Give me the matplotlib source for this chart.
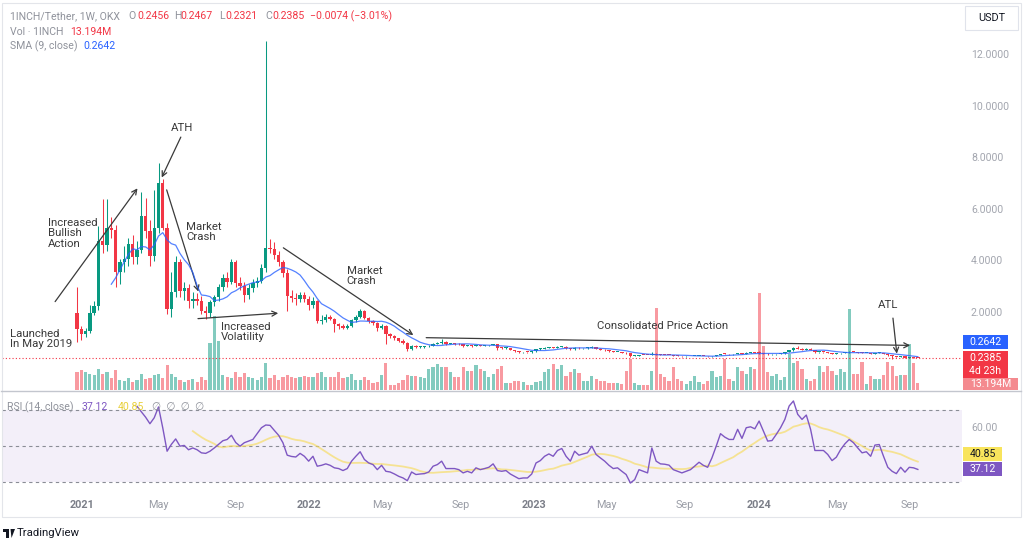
import numpy as np
import pandas as pd
import matplotlib
matplotlib.use("Agg")
import matplotlib.pyplot as plt
from matplotlib.patches import Rectangle, Circle, Polygon
from matplotlib.lines import Line2D
import matplotlib.transforms as mtransforms

plt.rcParams['font.family'] = ['Roboto', 'DejaVu Sans']

# ---------------- data (weekly bars, 1INCH/USDT, OKX) ----------------
opens = [2.00, 1.36, 1.16, 1.30, 2.00, 2.25, 4.77, 4.62, 5.30, 5.20,
         3.58, 3.95, 4.10, 4.65, 4.15, 4.45, 5.74, 5.16, 4.19, 5.30,
         7.05, 5.30, 2.13, 2.80, 3.95, 2.85, 2.95, 2.45, 2.55, 2.45,
         2.05, 1.97, 2.40, 2.60, 3.00, 3.35, 3.20, 3.95, 3.15, 3.05,
         2.70, 2.95, 3.15, 3.25, 3.75, 4.50, 4.48, 4.25, 3.95, 3.55,
         2.65, 2.58, 2.52, 2.68, 2.55, 2.30, 2.45, 1.68, 1.72, 1.82,
         1.75, 1.55, 1.50, 1.42, 1.48, 1.70, 1.82, 2.05, 1.80, 1.66,
         1.60, 1.40, 1.50, 1.16, 1.10, 1.00, 0.92, 0.84, 0.58, 0.72,
         0.66, 0.68, 0.69, 0.72, 0.80, 0.83, 0.88, 0.80, 0.802, 0.79,
         0.77, 0.71, 0.73, 0.70, 0.74, 0.72, 0.73, 0.74, 0.77, 0.64,
         0.62, 0.63, 0.56, 0.51, 0.46, 0.47, 0.465, 0.50, 0.58, 0.60,
         0.63, 0.65, 0.63, 0.67, 0.68, 0.62, 0.58, 0.64, 0.61, 0.62,
         0.63, 0.67, 0.60, 0.57, 0.54, 0.50, 0.47, 0.475, 0.45, 0.42,
         0.31, 0.33, 0.36, 0.355, 0.35, 0.40, 0.37, 0.36, 0.355, 0.35,
         0.33, 0.32, 0.30, 0.305, 0.31, 0.315, 0.32, 0.31, 0.30, 0.32,
         0.35, 0.40, 0.39, 0.385, 0.387, 0.42, 0.40, 0.44, 0.445, 0.44,
         0.43, 0.41, 0.38, 0.382, 0.40, 0.42, 0.46, 0.54, 0.63, 0.60,
         0.57, 0.60, 0.55, 0.47, 0.472, 0.465, 0.44, 0.41, 0.42, 0.44,
         0.46, 0.48, 0.47, 0.45, 0.43, 0.435, 0.41, 0.44, 0.445, 0.40,
         0.34, 0.30, 0.28, 0.30, 0.26, 0.27, 0.2456]

highs = [2.98, 1.50, 1.40, 2.30, 2.45, 5.35, 6.40, 6.40, 5.70, 5.40,
         4.10, 4.60, 4.90, 5.00, 4.80, 6.70, 6.45, 5.60, 6.77, 7.81,
         7.20, 5.50, 3.60, 4.20, 4.10, 3.20, 3.10, 2.80, 2.75, 2.65,
         2.25, 2.50, 2.70, 3.10, 3.50, 3.60, 4.10, 4.05, 3.40, 3.20,
         3.10, 3.30, 3.40, 3.90, 12.55, 4.85, 4.75, 4.40, 4.05, 3.70,
         2.90, 2.75, 2.80, 2.80, 2.65, 2.60, 2.50, 1.90, 1.95, 1.90,
         1.80, 1.60, 1.55, 1.55, 1.75, 1.90, 2.15, 2.10, 1.85, 1.72,
         1.62, 1.55, 1.52, 1.22, 1.14, 1.02, 0.96, 0.86, 0.76, 0.75,
         0.71, 0.72, 0.76, 0.84, 0.88, 0.96, 0.90, 0.84, 0.82, 0.81,
         0.78, 0.76, 0.74, 0.76, 0.76, 0.75, 0.76, 0.80, 0.78, 0.66,
         0.66, 0.64, 0.57, 0.52, 0.49, 0.48, 0.51, 0.59, 0.62, 0.65,
         0.68, 0.67, 0.69, 0.71, 0.69, 0.63, 0.66, 0.65, 0.64, 0.65,
         0.69, 0.68, 0.61, 0.58, 0.55, 0.51, 0.49, 0.48, 0.46, 0.43,
         0.34, 0.37, 0.37, 0.36, 0.48, 0.42, 0.38, 0.37, 0.36, 0.355,
         0.34, 0.325, 0.315, 0.32, 0.325, 0.33, 0.325, 0.315, 0.33, 0.36,
         0.41, 0.42, 0.40, 0.40, 0.44, 0.43, 0.46, 0.47, 0.46, 0.50,
         0.44, 0.42, 0.395, 0.41, 0.43, 0.475, 0.56, 0.66, 0.72, 0.62,
         0.63, 0.61, 0.56, 0.49, 0.48, 0.47, 0.45, 0.43, 0.45, 0.47,
         0.53, 0.49, 0.48, 0.46, 0.445, 0.44, 0.45, 0.46, 0.45, 0.41,
         0.35, 0.31, 0.31, 0.30, 0.28, 0.275, 0.2467]

lows = [0.88, 0.95, 1.05, 1.20, 1.90, 2.10, 4.30, 4.40, 4.90, 3.00,
        3.10, 3.60, 3.80, 3.90, 3.90, 4.30, 4.90, 3.80, 4.00, 5.10,
        5.20, 1.95, 1.85, 2.60, 2.60, 2.50, 2.20, 2.20, 2.30, 1.95,
        1.75, 1.85, 2.25, 2.45, 2.85, 3.00, 3.10, 3.00, 2.90, 2.40,
        2.55, 2.80, 3.00, 3.15, 3.60, 4.30, 4.10, 3.80, 3.40, 2.05,
        2.40, 2.30, 2.40, 2.40, 2.10, 2.20, 1.60, 1.55, 1.65, 1.70,
        1.25, 1.35, 1.35, 1.38, 1.45, 1.65, 1.78, 1.75, 1.60, 1.52,
        1.30, 1.35, 0.77, 1.00, 0.95, 0.85, 0.78, 0.50, 0.55, 0.62,
        0.63, 0.64, 0.66, 0.70, 0.77, 0.80, 0.76, 0.77, 0.75, 0.74,
        0.68, 0.69, 0.68, 0.69, 0.70, 0.70, 0.71, 0.73, 0.57, 0.58,
        0.60, 0.55, 0.49, 0.44, 0.45, 0.44, 0.45, 0.49, 0.56, 0.58,
        0.62, 0.61, 0.62, 0.65, 0.60, 0.56, 0.57, 0.60, 0.59, 0.60,
        0.62, 0.59, 0.56, 0.53, 0.49, 0.46, 0.46, 0.44, 0.41, 0.28,
        0.30, 0.32, 0.35, 0.34, 0.34, 0.36, 0.35, 0.35, 0.34, 0.325,
        0.315, 0.29, 0.295, 0.30, 0.305, 0.31, 0.305, 0.29, 0.295, 0.315,
        0.345, 0.38, 0.375, 0.375, 0.38, 0.39, 0.39, 0.43, 0.42, 0.40,
        0.40, 0.37, 0.37, 0.375, 0.395, 0.415, 0.455, 0.53, 0.58, 0.55,
        0.56, 0.54, 0.44, 0.45, 0.45, 0.43, 0.40, 0.40, 0.41, 0.43,
        0.45, 0.46, 0.44, 0.42, 0.42, 0.40, 0.40, 0.43, 0.39, 0.33,
        0.22, 0.27, 0.27, 0.25, 0.25, 0.24, 0.2321]

closes = [1.36, 1.16, 1.30, 2.00, 2.25, 4.77, 4.62, 5.30, 5.20, 3.58,
          3.95, 4.10, 4.65, 4.15, 4.45, 5.74, 5.16, 4.19, 5.30, 7.05,
          5.30, 2.13, 2.80, 3.95, 2.85, 2.95, 2.45, 2.55, 2.45, 2.05,
          1.97, 2.40, 2.60, 3.00, 3.35, 3.20, 3.95, 3.15, 3.05, 2.70,
          2.95, 3.15, 3.25, 3.75, 4.50, 4.48, 4.25, 3.95, 3.55, 2.65,
          2.58, 2.52, 2.68, 2.55, 2.30, 2.45, 1.68, 1.72, 1.82, 1.75,
          1.55, 1.50, 1.42, 1.48, 1.70, 1.82, 2.05, 1.80, 1.66, 1.60,
          1.40, 1.50, 1.16, 1.10, 1.00, 0.92, 0.84, 0.58, 0.72, 0.66,
          0.68, 0.69, 0.72, 0.80, 0.83, 0.88, 0.80, 0.802, 0.79, 0.77,
          0.71, 0.73, 0.70, 0.74, 0.72, 0.73, 0.74, 0.77, 0.64, 0.62,
          0.63, 0.56, 0.51, 0.46, 0.47, 0.465, 0.50, 0.58, 0.60, 0.63,
          0.65, 0.63, 0.67, 0.68, 0.62, 0.58, 0.64, 0.61, 0.62, 0.63,
          0.67, 0.60, 0.57, 0.54, 0.50, 0.47, 0.475, 0.45, 0.42, 0.31,
          0.33, 0.36, 0.355, 0.35, 0.40, 0.37, 0.36, 0.355, 0.35, 0.33,
          0.32, 0.30, 0.305, 0.31, 0.315, 0.32, 0.31, 0.30, 0.32, 0.35,
          0.40, 0.39, 0.385, 0.387, 0.42, 0.40, 0.44, 0.445, 0.44, 0.43,
          0.41, 0.38, 0.382, 0.40, 0.42, 0.46, 0.54, 0.63, 0.60, 0.57,
          0.60, 0.55, 0.47, 0.472, 0.465, 0.44, 0.41, 0.42, 0.44, 0.46,
          0.48, 0.47, 0.45, 0.43, 0.435, 0.41, 0.44, 0.445, 0.40, 0.34,
          0.30, 0.28, 0.30, 0.26, 0.27, 0.2456, 0.2385]

volumes_m = [32, 36, 32, 29, 27, 38, 29, 32, 22, 36,
             18, 16, 22, 14, 18, 29, 20, 22, 27, 29,
             22, 45, 29, 23, 18, 14, 18, 20, 14, 23,
             18, 85, 135, 90, 27, 23, 22, 32, 23, 31,
             23, 22, 18, 23, 49, 22, 27, 18, 23, 27,
             23, 22, 23, 25, 23, 23, 31, 32, 23, 23,
             23, 32, 22, 23, 29, 18, 18, 23, 18, 13,
             14, 27, 50, 9, 9, 13, 18, 27, 25, 25,
             23, 22,
             38, 41, 47, 42, 41, 32, 23, 23, 41, 35, 35, 45, 39, 35, 23, 29, 38, 43,
             13, 13, 17, 17, 14, 9, 9, 14, 17, 32, 38, 47, 38, 45, 26, 32, 39, 31,
             17, 17, 25, 20, 17, 17, 13, 13, 13, 11, 35, 56, 13, 9, 9, 9, 35,
             149,
             29, 23, 17, 41, 20, 17, 11, 17, 25, 14, 11, 17, 35, 23, 26, 56, 20, 17,
             41, 35, 29, 41, 38,
             176,
             80, 32, 25, 29, 19, 23, 65, 50, 53, 38, 20, 17, 20, 43, 32, 43, 35, 27,
             38, 32,
             147,
             29, 29, 51, 11, 25, 20, 20, 27, 51, 43, 25, 27, 27, 83, 50, 13.194]

rsi_first_bar = 14
rsi_values = [72, 69, 66, 62.4, 65.7, 71.7, 60,
              47.2, 51, 54, 50, 50.4, 48, 49, 48, 46.3, 46,
              47.2, 49, 51, 53, 53.7, 56, 52, 50, 51.9, 52.8,
              53.7, 56.9, 60.2, 61.7, 61.5, 58.7, 56, 51.9, 45, 44.3,
              44, 46, 44.4, 41.7, 44.4, 38.9, 39.4, 40.2, 39.4, 38,
              37.6, 36.5, 37.6, 41.7, 44.4, 46.9, 42.6, 40.7, 39.8, 37,
              39.4, 36.1, 35.7, 34.6, 33.3, 32.4, 30.9, 35.7, 34.3, 34.6,
              34.8, 35.7, 38.9, 39.8,
              41.7, 37.6, 37.6, 37.6, 37, 35.2,
              36.1, 35.2, 38, 37, 37.6, 38.3, 40.2, 36.5, 36.1, 36.5,
              34.6, 33.3, 32, 32.4, 32.4, 34.6, 40.7, 42, 44.4, 45.7,
              44.4, 47.6, 48.7, 44.4, 41.7, 47.2, 45, 45.7, 46.3, 50,
              45.4, 43.5, 41.7, 39.4, 37.6, 38, 36.1, 34.3, 29.6, 31.5,
              37, 36.1, 35.2, 49, 41.7, 40.2, 40, 39.5,
              37, 36.1, 35.2, 36.1, 37, 39, 41.1, 39.4, 38.3, 43.5,
              50, 56.9, 55, 53.7, 53.7, 59.3, 54.3, 60.2, 60.7, 59.6,
              63.9, 58.3, 52.8, 53.1, 56.5, 60.2, 64.8, 72.2, 75, 67.6,
              64.8, 67.2, 59.3, 47.6, 47.6, 47.6, 45.4, 42, 43.9, 48.1,
              51.3, 53.7, 51.9, 49, 46.3, 46.9, 44.4, 50.6, 50.9, 44.4,
              38.3, 36.1, 34.8, 38.3, 35.6, 38.3, 38, 37.12]

price_ticks = [2, 4, 6, 8, 10, 12]
rsi_levels = [70, 50, 30]
time_tick_pos = [1.2, 18.9, 37.1, 54.1, 71.1, 89.5, 106.5, 123.5, 141.7, 159.0, 177.2, 194.2]
time_tick_labels = ['2021', 'May', 'Sep', '2022', 'May', 'Sep', '2023', 'May', 'Sep', '2024', 'May', 'Sep']

n = len(closes)
assert len(opens) == n and len(highs) == n and len(lows) == n, (len(opens), len(highs), len(lows), n)
assert len(volumes_m) == n, len(volumes_m)
assert len(rsi_values) == n - rsi_first_bar, len(rsi_values)

o = np.array(opens); h = np.array(highs); l = np.array(lows); c = np.array(closes)
v = np.array(volumes_m)
idx = np.arange(n)
sma9 = pd.Series(c).rolling(9).mean()
rsi_full = np.full(n, np.nan)
rsi_full[rsi_first_bar:] = rsi_values
rsi_ma = pd.Series(rsi_full).rolling(14).mean()

UP, DOWN = '#089981', '#F23645'
GRAY = '#8f929b'

# ---------------- layout ----------------
W, H = 1024, 541
fig = plt.figure(figsize=(W / 100, H / 100), dpi=100)
fig.patch.set_facecolor('white')

def fx(x):
    return x / W

def fy(y):
    return 1 - y / H

PL, PR = 2, 962
P_TOP, P_BOT = 5, 390
R_TOP, R_BOT = 392, 492
X0_PX, STEP_PX = 77.0, 4.29
ZERO_PX, PX_PER_UNIT = 364.2, 25.75

rect_price = [fx(PL), fy(P_BOT), (PR - PL) / W, (P_BOT - P_TOP) / H]
ax_vol = fig.add_axes(rect_price)
ax = fig.add_axes(rect_price)
ax_rsi = fig.add_axes([fx(PL), fy(R_BOT), (PR - PL) / W, (R_BOT - R_TOP) / H])

xlim = ((PL - X0_PX) / STEP_PX, (PR - X0_PX) / STEP_PX)
for a in (ax, ax_vol, ax_rsi):
    a.set_xlim(*xlim)
    a.set_axis_off()
ax.set_ylim((ZERO_PX - P_BOT) / PX_PER_UNIT, (ZERO_PX - P_TOP) / PX_PER_UNIT)
ax_vol.set_ylim(0, 700)
rsi_px = 72.3 / 40.0
ax_rsi.set_ylim(30 - (R_BOT - 482.3) / rsi_px, 70 + (410 - R_TOP) / rsi_px)

# ---------------- volume ----------------
up_mask = c >= o
vol_colors = [(8/255, 153/255, 129/255, 0.5) if u else (242/255, 54/255, 69/255, 0.5) for u in up_mask]
ax_vol.bar(idx, v, width=0.74, color=vol_colors, linewidth=0)

# ---------------- candles ----------------
col = [UP if u else DOWN for u in up_mask]
ax.vlines(idx, l, h, colors=col, linewidth=0.75, zorder=2)
body = np.maximum(np.abs(c - o), 0.03)
ax.bar(idx, body, bottom=np.minimum(o, c), width=0.78, color=col, linewidth=0, zorder=3)
ax.plot(idx, sma9, color='#2962FF', lw=0.9, alpha=0.8, zorder=4)
ax.axhline(c[-1], color=DOWN, lw=0.8, ls=(0, (1, 2)), zorder=1)

# ---------------- annotations ----------------
ACOL = '#3a3a3a'
AFS = 8.2
arrow_kw = dict(arrowstyle='->', color=ACOL, lw=0.9, mutation_scale=9, shrinkA=0, shrinkB=0)

def arrow(p0, p1):
    ax.annotate('', xy=p1, xytext=p0, xycoords='data', textcoords='data',
                arrowprops=arrow_kw, annotation_clip=False)

ax.text(-15.6, 1.37, 'Launched\nIn May 2019', ha='left', va='top', fontsize=AFS, color=ACOL, linespacing=1.05)
ax.text(-6.8, 5.68, 'Increased\nBullish\nAction', ha='left', va='top', fontsize=AFS, color=ACOL, linespacing=1.05)
arrow((-5.1, 2.43), (14.1, 6.83))
ax.text(24.5, 9.17, 'ATH', ha='center', va='center', fontsize=AFS, color=ACOL)
arrow((24.2, 8.82), (19.75, 7.25))
ax.text(25.4, 5.52, 'Market\nCrash', ha='left', va='top', fontsize=AFS, color=ACOL, linespacing=1.05)
arrow((20.9, 6.77), (28.3, 2.82))
ax.text(33.6, 1.64, 'Increased\nVolatility', ha='left', va='top', fontsize=AFS, color=ACOL, linespacing=1.05)
arrow((28.2, 1.77), (46.9, 1.98))
ax.text(62.9, 3.81, 'Market\nCrash', ha='left', va='top', fontsize=AFS, color=ACOL, linespacing=1.05)
arrow((48.1, 4.52), (78.4, 1.13))
ax.text(136.6, 1.48, 'Consolidated Price Action', ha='center', va='center', fontsize=AFS, color=ACOL)
arrow((81.4, 1.03), (194.2, 0.73))
ax.text(189.0, 2.30, 'ATL', ha='center', va='center', fontsize=AFS, color=ACOL)
arrow((190.2, 1.79), (191.1, 0.41))

# ---------------- price scale ----------------
ptrans = mtransforms.blended_transform_factory(ax.transAxes, ax.transData)
for p in price_ticks:
    ax.text((971 - PL) / (PR - PL), p, f'{p:.4f}', transform=ptrans, ha='left', va='center',
            fontsize=7.6, color='#a3a6af')

def fig_box(x0, y0, x1, y1, fc, ec='none', lw=0):
    fig.add_artist(Rectangle((fx(x0), fy(y1)), (x1 - x0) / W, (y1 - y0) / H,
                             transform=fig.transFigure, fc=fc, ec=ec, lw=lw))

def ftext(x, y, s, ha='left', **kw):
    fig.text(fx(x), fy(y), s, ha=ha, va='center', **kw)

fig_box(963, 335, 1008, 349, '#2962FF')
ftext(985.5, 342, '0.2642', ha='center', color='white', fontsize=7.6)
fig_box(963, 351, 1008, 378, DOWN)
ftext(985.5, 358, '0.2385', ha='center', color='white', fontsize=7.6)
ftext(985.5, 371, '4d 23h', ha='center', color='white', fontsize=7.6)
fig_box(963, 378, 1018, 390, '#f48a8f')
ftext(990.5, 384, '13.194M', ha='center', color='white', fontsize=7.6)

# USDT button
fig_box(965, 6, 1018, 30, 'white', ec='#e0e3eb', lw=0.8)
ftext(991.5, 18, 'USDT', ha='center', color='#131722', fontsize=7.8)

# ---------------- RSI pane ----------------
ax_rsi.axhspan(30, 70, color='#7E57C2', alpha=0.09, lw=0)
for lv in rsi_levels:
    ax_rsi.axhline(lv, color='#8a8d96', lw=0.8, ls=(0, (3, 3)))
ax_rsi.plot(idx, rsi_ma, color='#F7DC5C', lw=1.3, alpha=0.65)
ax_rsi.plot(idx, rsi_full, color='#7E57C2', lw=1.0)

rtrans = mtransforms.blended_transform_factory(ax_rsi.transAxes, ax_rsi.transData)
ax_rsi.text((971 - PL) / (PR - PL), 60, '60.00', transform=rtrans, ha='left', va='center',
            fontsize=7.6, color='#a3a6af')
fig_box(963, 447, 1002, 461, '#F8E45C')
ftext(982.5, 454, '40.85', ha='center', color='#131722', fontsize=7.6)
fig_box(963, 462, 1002, 476, '#7E57C2')
ftext(982.5, 469, '37.12', ha='center', color='white', fontsize=7.6)

# time axis labels
ttrans = mtransforms.blended_transform_factory(ax_rsi.transData, ax_rsi.transAxes)
for pos, lab in zip(time_tick_pos, time_tick_labels):
    is_year = lab.isdigit()
    ax_rsi.text(pos, (R_BOT - 505) / (R_BOT - R_TOP), lab, transform=ttrans, ha='center', va='center',
                fontsize=7.8, color='#7b7e88' if is_year else '#9a9da6',
                fontweight='bold' if is_year else 'normal')

# ---------------- legends ----------------
HFS = 7.6
ftext(10, 16, '1INCH/Tether, 1W, OKX', color=GRAY, fontsize=HFS)
for x, s, colr in [(128, 'O', GRAY), (137, '0.2456', DOWN), (174, 'H', GRAY), (180, '0.2467', DOWN),
                   (219, 'L', GRAY), (225, '0.2321', DOWN), (265, 'C', GRAY), (272, '0.2385', DOWN),
                   (310, '\u22120.0074 (\u22123.01%)', DOWN)]:
    ftext(x, 16, s, color=colr, fontsize=HFS)
ftext(10, 32, 'Vol \u00b7 1INCH', color=GRAY, fontsize=HFS)
ftext(70, 32, '13.194M', color=DOWN, fontsize=HFS)
ftext(10, 46, 'SMA (9, close)', color=GRAY, fontsize=HFS)
ftext(83, 46, '0.2642', color='#2962FF', fontsize=HFS)

ftext(7, 407, 'RSI (14, close)', color=GRAY, fontsize=HFS)
ftext(82, 407, '37.12', color='#7E57C2', fontsize=HFS)
ftext(118, 407, '40.85', color='#E8CF3A', fontsize=HFS)
ftext(152, 407, '\u2205  \u2205  \u2205  \u2205', color=GRAY, fontsize=HFS)

# ---------------- frame / separators ----------------
fig.add_artist(Line2D([fx(1), fx(1021)], [fy(391), fy(391)], color='#c3c6ce', lw=1.0))
fig_box(1.5, 2.5, 1020.5, 517, 'none', ec='#e3e5ea', lw=0.8)

# TradingView logo
fig.add_artist(Rectangle((fx(3), fy(532)), 6 / W, 3 / H, transform=fig.transFigure, fc='#131722', ec='none'))
fig.add_artist(Rectangle((fx(6), fy(538)), 3 / W, 9 / H, transform=fig.transFigure, fc='#131722', ec='none'))
fig.add_artist(Polygon([(fx(10.5), fy(529)), (fx(15), fy(529)), (fx(11.5), fy(538))], closed=True,
                       transform=fig.transFigure, fc='#131722', ec='none'))
ftext(17, 533, 'TradingView', color='#131722', fontsize=8.2)

fig.savefig('out.png', dpi=100, facecolor='white')
